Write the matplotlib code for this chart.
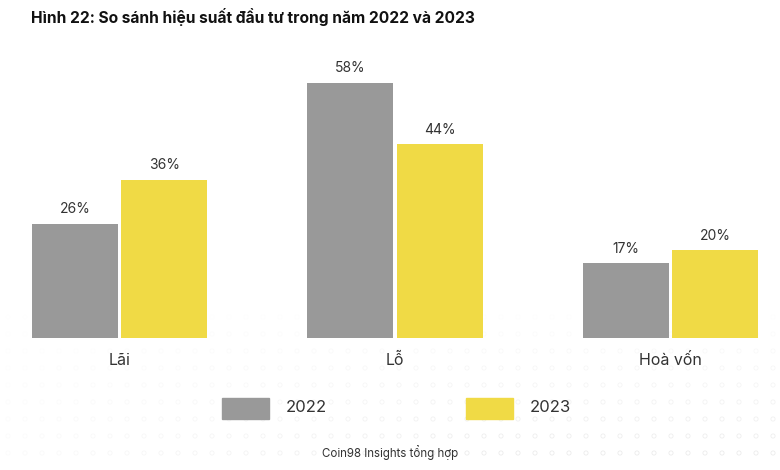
import numpy as np
import matplotlib
matplotlib.use('Agg')
import matplotlib.pyplot as plt
from matplotlib.patches import Rectangle

plt.rcParams['font.family'] = ['Inter', 'DejaVu Sans']

categories = ['Lãi', 'Lỗ', 'Hoà vốn']
years = ['2022', '2023']
vals_2022 = [26, 58, 17]
vals_2023 = [36, 44, 20]
colors = ['#999999', '#F0DA45']
txt = '#333333'

W, H = 780, 470
fig = plt.figure(figsize=(W / 100, H / 100), dpi=100)
fig.patch.set_facecolor('white')

# faint dot pattern in the background (decoration only)
bg = fig.add_axes([0, 0, 1, 1], zorder=0)
bg.set_xlim(0, W)
bg.set_ylim(H, 0)
bg.axis('off')
gx, gy = np.meshgrid(np.arange(8, W, 17), np.arange(300, H, 17))
alpha = np.clip((gy - 300) / 170.0, 0, 1) * np.clip(gx / 600.0 + 0.2, 0, 1) * 0.7
bg.scatter(gx.ravel(), gy.ravel(), s=9, facecolors='none',
           edgecolors=[(0.88, 0.88, 0.88, a) for a in alpha.ravel()], linewidths=0.6)

# main bar axes
left, right, bottom_px, top_px = 32, 758, 338, 60
ax = fig.add_axes([left / W, (H - bottom_px) / H, (right - left) / W, (bottom_px - top_px) / H], zorder=1)
ax.patch.set_alpha(0)
x = np.arange(len(categories))
bw = 86 / 275
off = 44.5 / 275
b1 = ax.bar(x - off, vals_2022, bw, color=colors[0])
b2 = ax.bar(x + off, vals_2023, bw, color=colors[1])
for bars, vals in [(b1, vals_2022), (b2, vals_2023)]:
    for b, v in zip(bars, vals):
        ax.text(b.get_x() + b.get_width() / 2, v + 1.7, f'{v}%', ha='center', va='bottom',
                fontsize=10, color=txt)
ax.set_xlim(-off - bw / 2, 2 + off + bw / 2)
ax.set_ylim(0, (bottom_px - top_px) / 4.4)
ax.axis('off')
for xi, c in zip(x, categories):
    ax.text(xi, -3.4, c, ha='center', va='top', fontsize=11.5, color=txt)

# title
fig.text(31 / W, 1 - 17 / H, 'Hình 22: So sánh hiệu suất đầu tư trong năm 2022 và 2023',
         fontsize=11.2, fontweight='bold', color='#111111', va='center', ha='left')

# legend
lg = fig.add_axes([0, 0, 1, 1], zorder=2)
lg.set_xlim(0, W)
lg.set_ylim(H, 0)
lg.axis('off')
for lx, col, yr in [(222, colors[0], years[0]), (466, colors[1], years[1])]:
    lg.add_patch(Rectangle((lx, 398), 47, 21, color=col))
    lg.text(lx + 64, 408, yr, fontsize=12, color=txt, va='center', ha='left')

fig.text(390 / W, 1 - 452 / H, 'Coin98 Insights tổng hợp', fontsize=8.3, color=txt,
         ha='center', va='center')

fig.savefig('out.png', dpi=100, facecolor='white')
